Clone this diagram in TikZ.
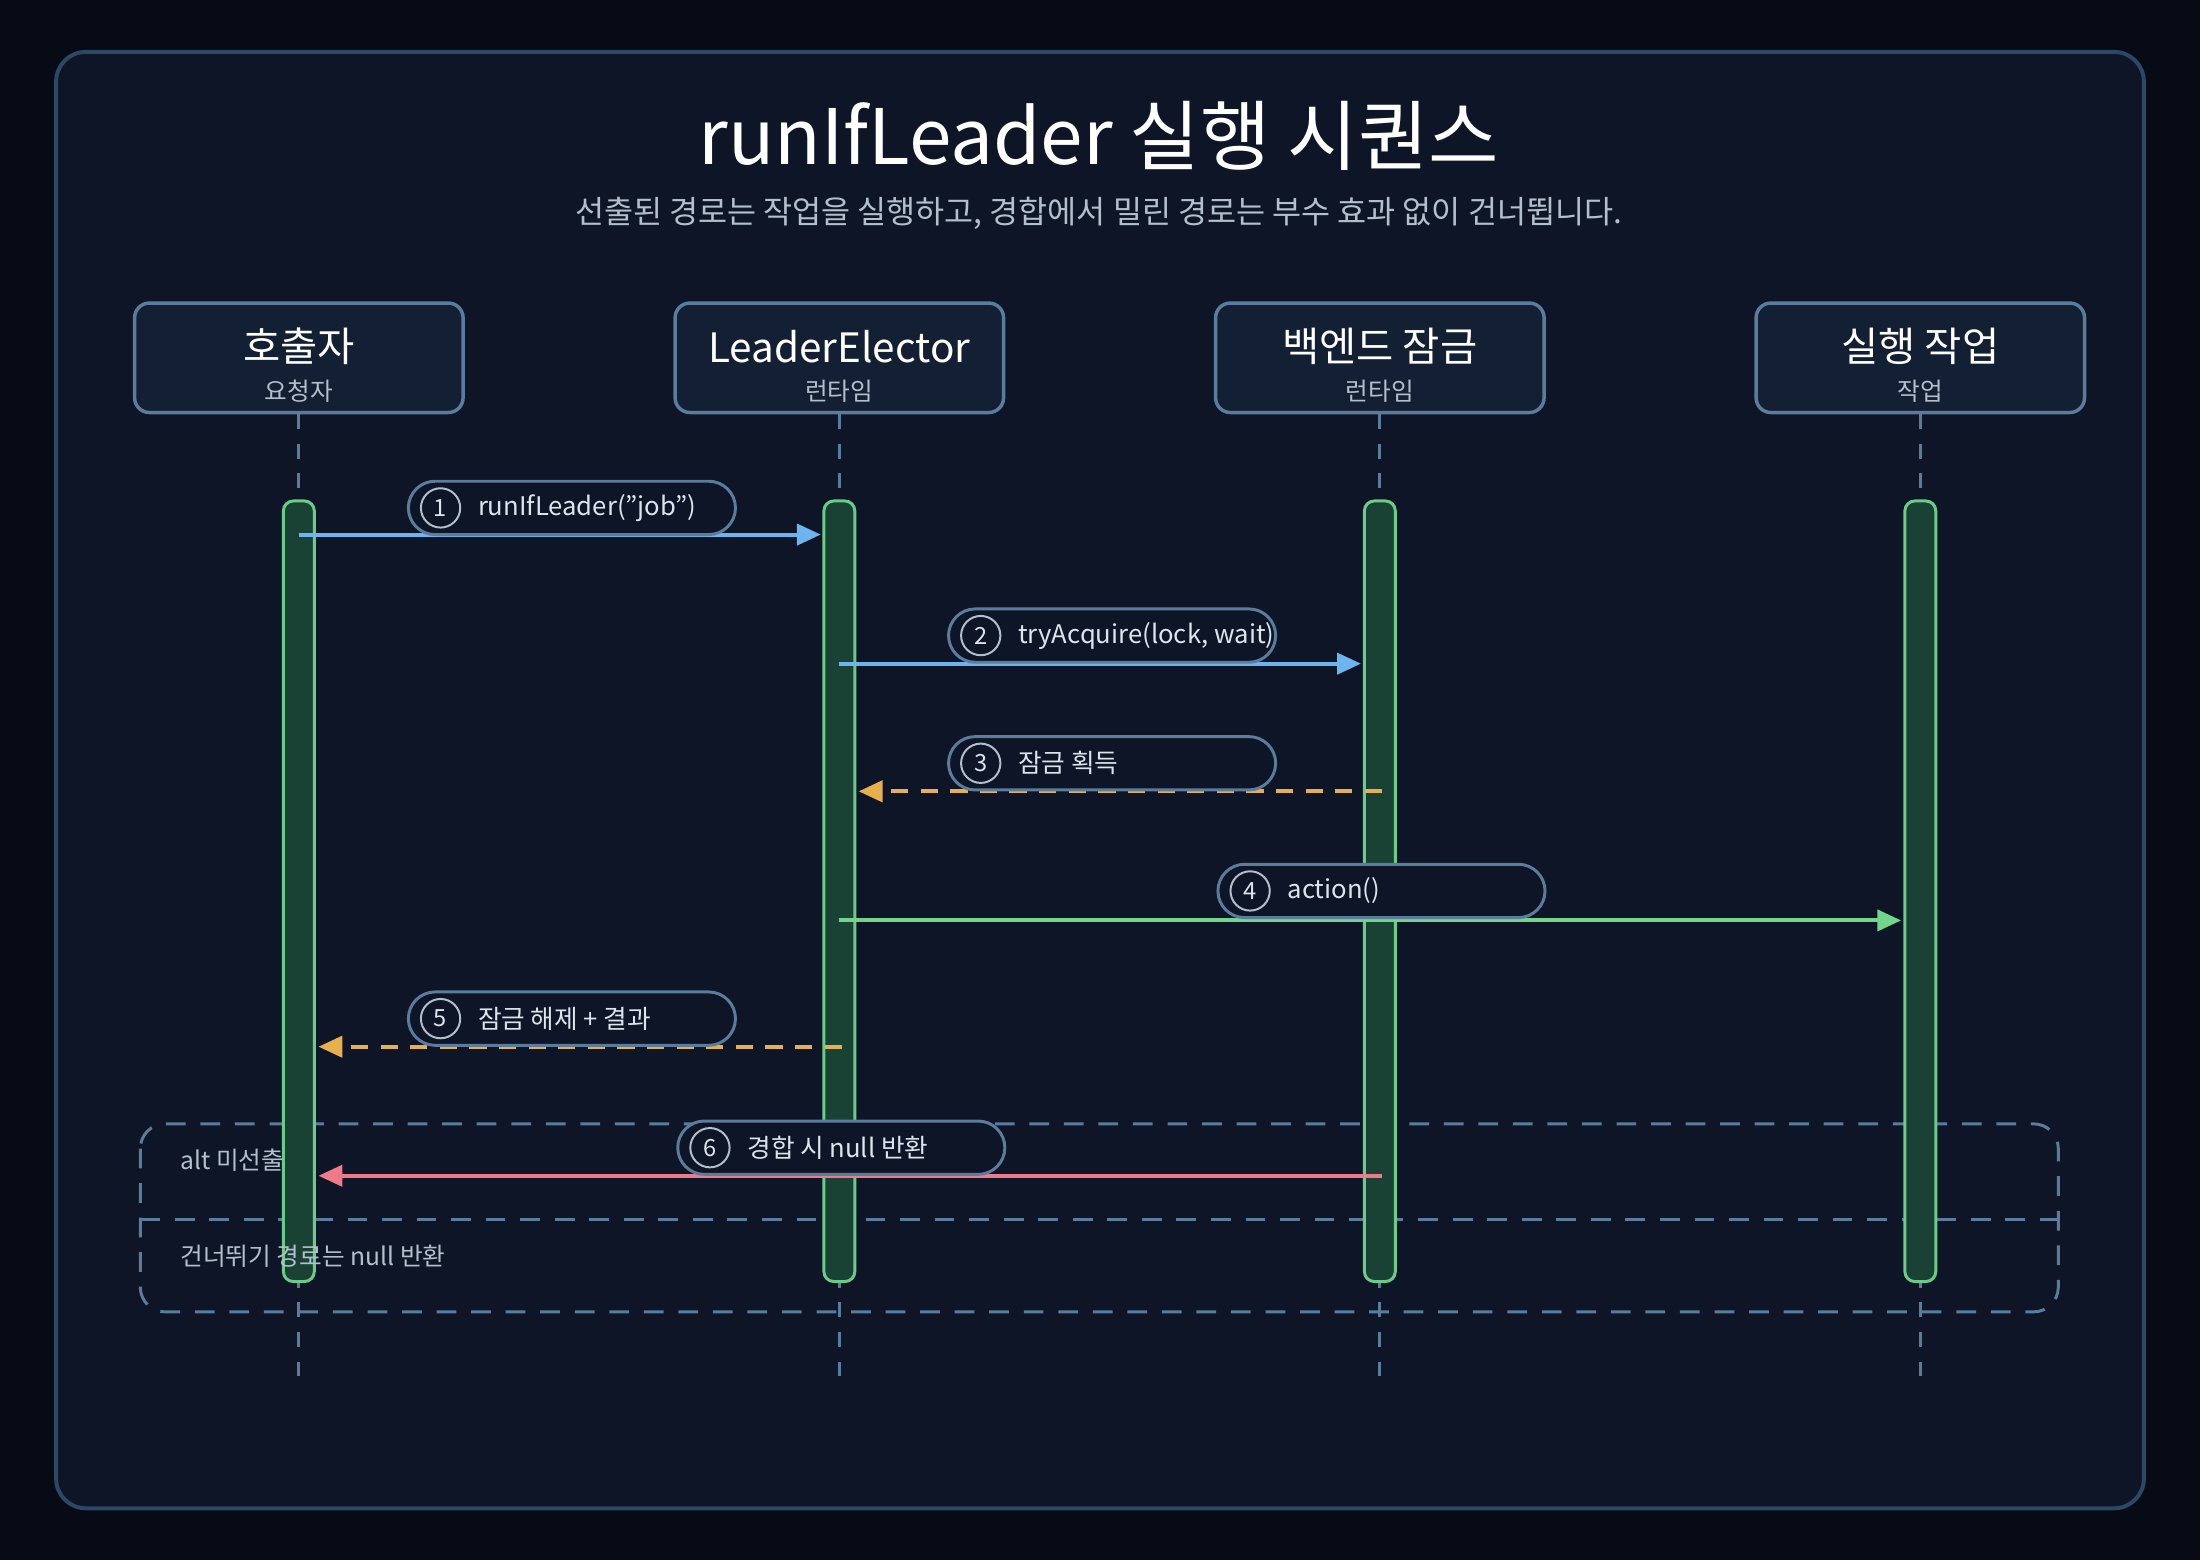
\documentclass[tikz,border=0pt]{standalone}
\usepackage{fontspec}
\setmainfont{Noto Sans CJK KR}
\usetikzlibrary{positioning,arrows.meta}
\definecolor{bgdark}{HTML}{060B16}
\definecolor{panel}{HTML}{0D1526}
\definecolor{panelline}{HTML}{2C4864}
\definecolor{headfill}{HTML}{132033}
\definecolor{edgeblue}{HTML}{5C7C9C}
\definecolor{subgray}{HTML}{B4BFCD}
\definecolor{barfill}{HTML}{1A4234}
\definecolor{barline}{HTML}{6CCB88}
\definecolor{callblue}{HTML}{6DB5EE}
\definecolor{retorange}{HTML}{E7B04F}
\definecolor{rungreen}{HTML}{72D68A}
\definecolor{failred}{HTML}{EE7A8A}
\definecolor{labeltext}{HTML}{DCE4EE}

\begin{document}
\begin{tikzpicture}[x=0.01cm,y=-0.01cm,node distance=3.85cm,on grid,
  head/.style={draw=edgeblue,line width=0.7pt,fill=headfill,rounded corners=3pt,
    minimum width=2.34cm,minimum height=0.78cm},
  lifeline/.style={edgeblue,line width=0.6pt,dash pattern=on 3pt off 3pt},
  bar/.style={draw=barline,line width=0.6pt,fill=barfill,rounded corners=2pt,
    minimum width=0.22cm,minimum height=5.56cm,inner sep=0pt},
  msg/.style={line width=0.8pt,-{Triangle[length=0.17cm,width=0.15cm]}},
  ret/.style={msg,dash pattern=on 3.5pt off 2.5pt},
  pill/.style={draw=edgeblue,line width=0.6pt,fill=panel,rounded corners=0.19cm,
    minimum width=2.33cm,minimum height=0.38cm,anchor=west,inner sep=0pt},
  num/.style={circle,draw=subgray,line width=0.4pt,minimum size=0.28cm,inner sep=0pt,
    text=labeltext,font=\fontsize{4.8}{5}\selectfont},
  msglabel/.style={anchor=west,text=labeltext,font=\fontsize{5.2}{6}\selectfont,inner sep=0pt},
  frameline/.style={edgeblue,line width=0.6pt,dash pattern=on 4pt off 3pt}]

  % backdrop and panel
  \fill[bgdark] (0,0) rectangle (1568,1112);
  \draw[panelline,fill=panel,line width=0.8pt,rounded corners=6pt] (40,37) rectangle (1528,1075);

  \node[text=white,font=\fontsize{15.5}{18}\selectfont] (title) at (783,97) {runIfLeader 실행 시퀀스};
  \node[text=subgray,font=\fontsize{6.4}{8}\selectfont] (subtitle) at (783,152)
    {선출된 경로는 작업을 실행하고, 경합에서 밀린 경로는 부수 효과 없이 건너뜁니다.};

  % participants
  \node[head] (caller) at (213,255) {};
  \node[head] (elector) [right=of caller] {};
  \node[head] (backend) [right=of elector] {};
  \node[head] (task) [right=of backend] {};
  \foreach \p/\t/\s in {caller/호출자/요청자, elector/LeaderElector/런타임,
                        backend/백엔드 잠금/런타임, task/실행 작업/작업} {
    \node[text=white,font=\fontsize{8.2}{9}\selectfont] at ([yshift=0.08cm]\p) {\t};
    \node[text=subgray,font=\fontsize{5}{6}\selectfont] at ([yshift=-0.24cm]\p) {\s};
    \draw[lifeline] (\p.south) -- ++(0,690);
  }

  % alt frame
  \draw[frameline,rounded corners=5pt] (100,801) rectangle (1467,935);
  \draw[frameline] (100,869) -- (1467,869);

  % activations
  \foreach \p in {caller,elector,backend,task}
    \node[bar,anchor=north] (\p bar) at (\p |- 0,356) {};

  \node[anchor=west,inner sep=0pt,text=subgray,font=\fontsize{5}{6}\selectfont] (altlabel) at (128,827) {alt 미선출};
  \node[anchor=west,inner sep=0pt,text=subgray,font=\fontsize{5}{6}\selectfont] (elselabel) at (128,895) {건너뛰기 경로는 null 반환};

  % message ends
  \coordinate (m1s) at (213,381);  \coordinate (m1e) at (585,381);
  \coordinate (m2s) at (598,473);  \coordinate (m2e) at (970,473);
  \coordinate (m3s) at (985,564);  \coordinate (m3e) at (612,564);
  \coordinate (m4s) at (598,656);  \coordinate (m4e) at (1355,656);
  \coordinate (m5s) at (600,746);  \coordinate (m5e) at (227,746);
  \coordinate (m6s) at (985,838);  \coordinate (m6e) at (227,838);

  \draw[msg,callblue] (m1s) -- (m1e);
  \draw[msg,callblue] (m2s) -- (m2e);
  \draw[ret,retorange] (m3s) -- (m3e);
  \draw[msg,rungreen] (m4s) -- (m4e);
  \draw[ret,retorange] (m5s) -- (m5e);
  \draw[msg,failred] (m6s) -- (m6e);

  % message labels
  \foreach \n/\x/\y/\t in {1/290/362/runIfLeader("job"), 2/675/453/tryAcquire(lock{,} wait),
      3/675/544/잠금 획득, 4/867/635/action(), 5/290/726/잠금 해제 + 결과, 6/482/818/경합 시 null 반환} {
    \node[pill] (pill\n) at (\x,\y) {};
    \node[num] (num\n) at (\x+24,\y) {\n};
    \node[msglabel] (lab\n) at (\x+50,\y) {\t};
  }

\end{tikzpicture}
\end{document}
